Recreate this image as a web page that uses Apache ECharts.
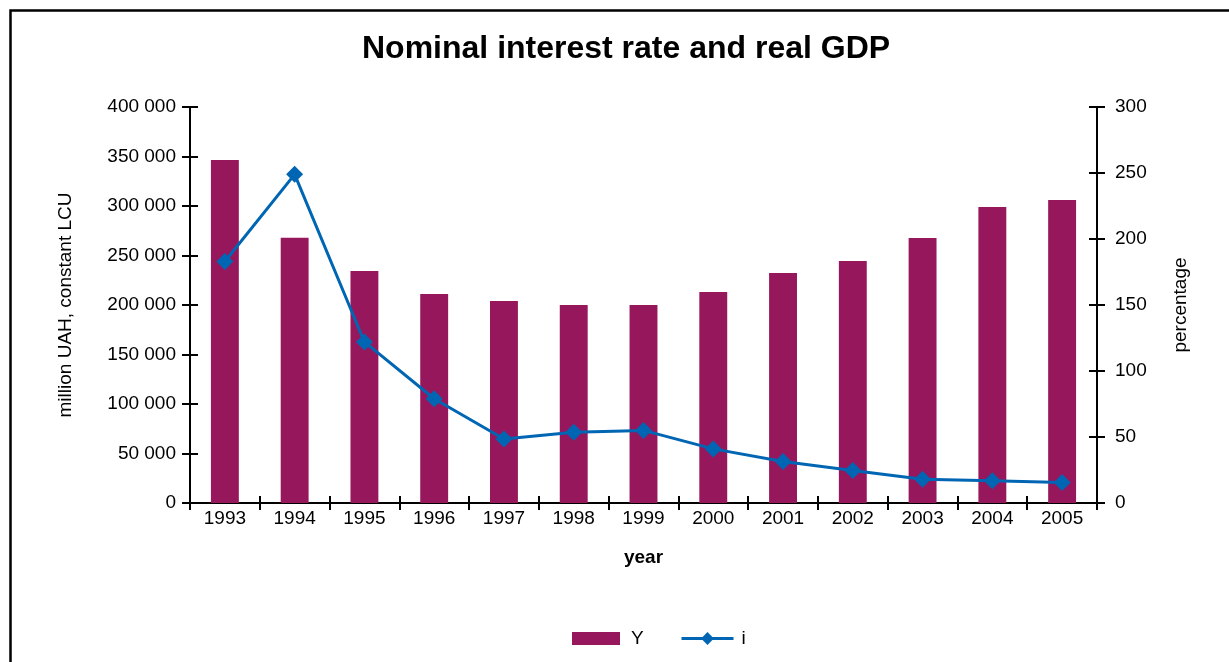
<!DOCTYPE html>
<html>
<head>
<meta charset="utf-8">
<script src="https://cdn.jsdelivr.net/npm/echarts@6/dist/echarts.min.js"></script>
<style>
  html, body { margin: 0; padding: 0; background: #fff; }
  #chart { width: 1229px; height: 662px; }
</style>
</head>
<body>
<div id="chart"></div>
<script>
// Years on the category axis
const years = ['1993', '1994', '1995', '1996', '1997', '1998', '1999', '2000', '2001', '2002', '2003', '2004', '2005'];
// Real GDP, million UAH (constant LCU)
const gdpY = [346500, 268000, 234300, 211100, 204000, 200000, 200000, 213100, 232300, 244400, 267700, 299000, 306000];
// Nominal interest rate, percent
const rateI = [183, 249, 122, 79, 48.5, 53.6, 55, 41, 31.5, 24.7, 18, 16.9, 15.6];

const FONT = '"Liberation Sans", Arial, sans-serif';
const BAR_COLOR = '#97175d';
const LINE_COLOR = '#0066b3';

function spaced(v) {
  return String(v).replace(/\B(?=(\d{3})+(?!\d))/g, ' ');
}

const labelStyle = { color: '#000', fontFamily: FONT, fontSize: 19 };
const axisLineStyle = { show: true, lineStyle: { color: '#000', width: 2 } };

const chart = echarts.init(document.getElementById('chart'), null, { renderer: 'canvas' });

chart.setOption({
  backgroundColor: '#fff',
  animation: false,
  title: {
    text: 'Nominal interest rate and real GDP',
    left: 357,
    top: 28,
    textStyle: { fontFamily: FONT, fontSize: 32, fontWeight: 'bold', color: '#000' }
  },
  graphic: [{
    type: 'rect',
    shape: { x: 10.5, y: 10.5, width: 1300, height: 700 },
    style: { fill: 'none', stroke: '#000', lineWidth: 2.5 },
    silent: true
  }],
  legend: [{
    left: 572,
    top: 629,
    padding: 0,
    itemWidth: 48,
    itemHeight: 13,
    textStyle: { fontFamily: FONT, fontSize: 19, color: '#000', padding: [0, 0, 0, 6] },
    data: [{ name: 'Y', icon: 'rect' }]
  }, {
    left: 680,
    top: 629,
    padding: 0,
    itemWidth: 52,
    itemHeight: 16,
    lineStyle: { width: 3 },
    textStyle: { fontFamily: FONT, fontSize: 19, color: '#000', padding: [0, 0, 0, 3] },
    data: [{ name: 'i' }]
  }],
  grid: { left: 190, right: 132, top: 107, bottom: 159, containLabel: false },
  xAxis: [{
    type: 'category',
    data: years,
    name: 'year',
    nameLocation: 'middle',
    nameGap: 45,
    nameTextStyle: { fontFamily: FONT, fontSize: 19, fontWeight: 'bold', color: '#000' },
    axisLine: axisLineStyle,
    axisTick: { show: true, length: 7, lineStyle: { color: '#000', width: 2 } },
    axisLabel: Object.assign({ margin: 6 }, labelStyle),
    splitLine: { show: false }
  }, {
    // inward half of the crossing ticks on the category axis
    type: 'category',
    data: years,
    position: 'bottom',
    axisLine: { show: false },
    axisTick: { show: true, inside: true, length: 7, lineStyle: { color: '#000', width: 2 } },
    axisLabel: { show: false },
    splitLine: { show: false }
  }],
  yAxis: [{
    type: 'value',
    position: 'left',
    min: 0, max: 400000, interval: 50000,
    name: 'million UAH, constant LCU',
    nameLocation: 'middle',
    nameRotate: 90,
    nameGap: 115,
    nameTextStyle: { fontFamily: FONT, fontSize: 19, color: '#000' },
    axisLine: axisLineStyle,
    axisTick: { show: true, length: 8, lineStyle: { color: '#000', width: 2 } },
    axisLabel: Object.assign({ margin: 14, formatter: spaced }, labelStyle),
    splitLine: { show: false }
  }, {
    type: 'value',
    position: 'right',
    min: 0, max: 300, interval: 50,
    name: 'percentage',
    nameLocation: 'middle',
    nameRotate: 90,
    nameGap: 74,
    nameTextStyle: { fontFamily: FONT, fontSize: 19, color: '#000' },
    axisLine: axisLineStyle,
    axisTick: { show: true, length: 8, lineStyle: { color: '#000', width: 2 } },
    axisLabel: Object.assign({ margin: 18 }, labelStyle),
    splitLine: { show: false }
  }, {
    // inward half of the crossing ticks, left axis
    type: 'value',
    position: 'left',
    min: 0, max: 400000, interval: 50000,
    axisLine: { show: false },
    axisTick: { show: true, inside: true, length: 8, lineStyle: { color: '#000', width: 2 } },
    axisLabel: { show: false },
    splitLine: { show: false }
  }, {
    // inward half of the crossing ticks, right axis
    type: 'value',
    position: 'right',
    min: 0, max: 300, interval: 50,
    axisLine: { show: false },
    axisTick: { show: true, inside: true, length: 8, lineStyle: { color: '#000', width: 2 } },
    axisLabel: { show: false },
    splitLine: { show: false }
  }],
  series: [{
    name: 'Y',
    type: 'bar',
    xAxisIndex: 0,
    yAxisIndex: 0,
    data: gdpY,
    barWidth: '40%',
    itemStyle: { color: BAR_COLOR }
  }, {
    name: 'i',
    type: 'line',
    xAxisIndex: 0,
    yAxisIndex: 1,
    data: rateI,
    symbol: 'diamond',
    symbolSize: 17,
    lineStyle: { color: LINE_COLOR, width: 3 },
    itemStyle: { color: LINE_COLOR }
  }]
});
</script>
</body>
</html>
